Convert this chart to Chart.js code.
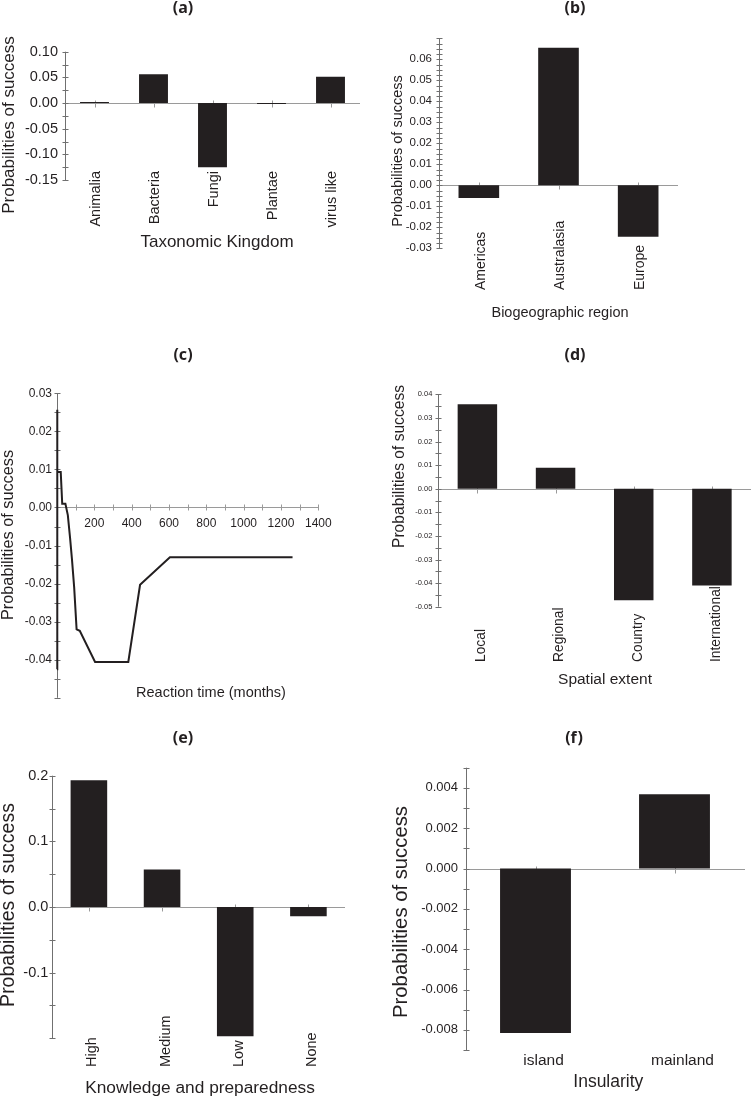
<!DOCTYPE html>
<html>
<head>
<meta charset="utf-8">
<script src="https://cdn.jsdelivr.net/npm/chart.js@4/dist/chart.umd.min.js"></script>
<style>
    body { margin: 0; background: #fff; }
    #page { position: relative; width: 751px; height: 1099px; overflow: hidden; }
    #page canvas { position: absolute; }
</style>
</head>
<body>
<div id="page"></div>
<script>
// ---- values ----
// (a) taxonomic kingdom
var kingdoms = ['Animalia', 'Bacteria', 'Fungi', 'Plantae', 'virus like'];
var kingdomProb = [0.002, 0.056, -0.125, -0.002, 0.051];
var kingdomTicks = [0.10, 0.05, 0.00, -0.05, -0.10, -0.15];

// (b) biogeographic region
var regions = ['Americas', 'Australasia', 'Europe'];
var regionProb = [-0.006, 0.0655, -0.0245];
var regionTicks = [0.06, 0.05, 0.04, 0.03, 0.02, 0.01, 0.00, -0.01, -0.02, -0.03];

// (c) reaction time in months
var reactionMonths = [0, 1, 2, 20, 28, 45, 58, 70, 80, 92, 105, 122, 204, 382, 445, 605, 1262];
var reactionProb = [-0.0425, 0.0257, 0.0093, 0.0093, 0.001, 0.001, -0.002, -0.008, -0.0135, -0.021, -0.032, -0.0324, -0.0406, -0.0406, -0.0203, -0.0131, -0.0131];
var reactionYTicks = [0.03, 0.02, 0.01, 0.00, -0.01, -0.02, -0.03, -0.04];
var reactionXTicks = [200, 400, 600, 800, 1000, 1200, 1400];

// (d) spatial extent
var extents = ['Local', 'Regional', 'Country', 'International'];
var extentProb = [0.0358, 0.0089, -0.0473, -0.041];
var extentTicks = [0.04, 0.03, 0.02, 0.01, 0.00, -0.01, -0.02, -0.03, -0.04, -0.05];

// (e) knowledge and preparedness
var knowledge = ['High', 'Medium', 'Low', 'None'];
var knowledgeProb = [0.193, 0.057, -0.197, -0.0142];
var knowledgeTicks = [0.2, 0.1, 0.0, -0.1];

// (f) insularity
var insularity = ['island', 'mainland'];
var insularityProb = [-0.00816, 0.00368];
var insularityTicks = [0.004, 0.002, 0.000, -0.002, -0.004, -0.006, -0.008];

var INK = '#231f20';
var SANS = '"Liberation Sans", Arial, sans-serif';

function px(v) { return Math.round(v) + 0.5; }

function strokeLine(ctx, x1, y1, x2, y2) {
    ctx.beginPath();
    ctx.moveTo(x1, y1);
    ctx.lineTo(x2, y2);
    ctx.stroke();
}

function putText(ctx, text, x, y, size, align, rotate, font) {
    ctx.save();
    ctx.font = font || (size + 'px ' + SANS);
    ctx.fillStyle = INK;
    ctx.textAlign = align || 'center';
    ctx.textBaseline = 'middle';
    ctx.translate(x, y);
    if (rotate) ctx.rotate(-Math.PI / 2);
    ctx.fillText(text, 0, 0);
    ctx.restore();
}

// axes, ticks, titles and category labels drawn around each panel
var panelDecor = {
    id: 'panelDecor',
    beforeDatasetsDraw: function (chart, args, o) {
        var ctx = chart.ctx, area = chart.chartArea;
        var ys = chart.scales.y, xs = chart.scales.x;
        var y0 = px(ys.getPixelForValue(0));
        var xl = px(area.left);
        var i;
        ctx.save();
        ctx.lineWidth = 1;

        // horizontal axis through zero
        ctx.strokeStyle = '#9a9a9a';
        strokeLine(ctx, xl, y0, area.right + (o.zeroExtend || 0), y0);
        if (o.xMinor) {
            for (var v = o.xMinor; v <= xs.max + 1e-9; v += o.xMinor) {
                var p = px(xs.getPixelForValue(v));
                strokeLine(ctx, p, y0 - 3, p, y0 + 3);
            }
        } else {
            chart.data.labels.forEach(function (l, k) {
                var p = px(xs.getPixelForValue(k));
                strokeLine(ctx, p, y0 - 3, p, y0 + 4);
            });
        }

        // vertical axis with major and minor ticks
        ctx.strokeStyle = '#707070';
        strokeLine(ctx, xl, area.top, xl, area.bottom);
        var n = Math.round((ys.max - ys.min) / o.yMinor);
        for (i = 0; i <= n; i++) {
            var py = px(ys.getPixelForValue(ys.min + i * o.yMinor));
            strokeLine(ctx, xl - 3, py, xl + 3, py);
        }
        ctx.restore();
    },
    afterDraw: function (chart, args, o) {
        var ctx = chart.ctx, bx = o.box.x, by = o.box.y;
        var xs = chart.scales.x;

        putText(ctx, o.letter, o.letterAt[0] - bx, o.letterAt[1] - by, 16, 'center', false,
            'bold 16px "Noto Sans", sans-serif');
        putText(ctx, o.yTitle.text, o.yTitle.x - bx, o.yTitle.y - by, o.yTitle.size, 'center', true);
        putText(ctx, o.xTitle.text, o.xTitle.x - bx, o.xTitle.y - by, o.xTitle.size, 'center', false);

        if (o.cats) {
            var c = o.cats;
            chart.data.labels.forEach(function (label, k) {
                var x = xs.getPixelForValue(k) + c.dx;
                if (c.align === 'flat') {
                    putText(ctx, label, x, c.y - by, c.size, 'center', false);
                } else {
                    putText(ctx, label, x, c.y - by, c.size, c.align === 'top' ? 'right' : 'left', true);
                }
            });
        }
        if (o.xLabels) {
            o.xLabels.values.forEach(function (v) {
                putText(ctx, String(v), xs.getPixelForValue(v), o.xLabels.y - by, o.xLabels.size, 'center', false);
            });
        }
    }
};

// y scale whose box fills the whole strip left of the plot, so tick labels are not clipped
function yScale(min, max, tickValues, decimals, size, gap) {
    return {
        min: min,
        max: max,
        afterBuildTicks: function (s) {
            s.ticks = tickValues.map(function (v) { return { value: v }; });
        },
        afterFit: function (s) { s.width = s.options.stripWidth; },
        grid: { display: false, drawTicks: false },
        border: { display: false },
        ticks: {
            autoSkip: false,
            color: INK,
            padding: gap,
            font: { family: SANS, size: size },
            callback: function (v) { return Number(v).toFixed(decimals); }
        }
    };
}

function makeCanvas(box) {
    var canvas = document.createElement('canvas');
    canvas.width = box.w;
    canvas.height = box.h;
    canvas.style.left = box.x + 'px';
    canvas.style.top = box.y + 'px';
    document.getElementById('page').appendChild(canvas);
    return canvas;
}

function baseOptions(box, area, scales, decor) {
    decor.box = box;
    scales.y.stripWidth = area[0] - box.x;
    return {
        responsive: false,
        animation: false,
        layout: {
            padding: {
                left: 0,
                top: area[1] - box.y,
                right: box.x + box.w - area[2],
                bottom: box.y + box.h - area[3]
            }
        },
        scales: scales,
        plugins: {
            legend: { display: false },
            tooltip: { enabled: false },
            panelDecor: decor
        }
    };
}

function barPanel(box, area, labels, values, barPct, y, decor) {
    new Chart(makeCanvas(box), {
        type: 'bar',
        data: {
            labels: labels,
            datasets: [{
                data: values,
                backgroundColor: INK,
                borderWidth: 0,
                barPercentage: barPct,
                categoryPercentage: 1
            }]
        },
        options: baseOptions(box, area, {
            x: { type: 'category', display: false, offset: true },
            y: y
        }, decor),
        plugins: [panelDecor]
    });
}

// (a)
barPanel({ x: 0, y: 0, w: 375, h: 340 }, [65, 51.7, 360, 180],
    kingdoms, kingdomProb, 0.49,
    yScale(-0.15, 0.10, kingdomTicks, 2, 14.5, 7),
    {
        letter: '(a)', letterAt: [183, 8], yMinor: 0.025,
        yTitle: { text: 'Probabilities of success', x: 9, y: 125, size: 17 },
        xTitle: { text: 'Taxonomic Kingdom', x: 217, y: 242, size: 17 },
        cats: { size: 14.5, y: 171, align: 'top', dx: 1.5 }
    });

// (b)
barPanel({ x: 375, y: 0, w: 376, h: 340 }, [439, 38.3, 678, 248.3],
    regions, regionProb, 0.51,
    yScale(-0.03, 0.07, regionTicks, 2, 11.5, 7),
    {
        letter: '(b)', letterAt: [575, 8], yMinor: 0.0025,
        yTitle: { text: 'Probabilities of success', x: 398, y: 151, size: 14.5 },
        xTitle: { text: 'Biogeographic region', x: 560, y: 313, size: 14.5 },
        cats: { size: 14, y: 290, align: 'bottom', dx: 2 }
    });

// (c) line chart over reaction time
(function () {
    var box = { x: 0, y: 340, w: 375, h: 370 };
    var points = reactionMonths.map(function (m, i) { return { x: m, y: reactionProb[i] }; });
    new Chart(makeCanvas(box), {
        type: 'line',
        data: {
            datasets: [{
                data: points,
                borderColor: INK,
                borderWidth: 2,
                pointRadius: 0,
                tension: 0,
                fill: false,
                clip: false
            }]
        },
        options: baseOptions(box, [57, 393.3, 318.3, 701.2], {
            x: { type: 'linear', display: false, min: 0, max: 1400 },
            y: yScale(-0.05, 0.03, reactionYTicks, 2, 12, 5)
        }, {
            letter: '(c)', letterAt: [183, 355], yMinor: 0.005, xMinor: 100,
            xLabels: { values: reactionXTicks, y: 524, size: 12 },
            yTitle: { text: 'Probabilities of success', x: 8.5, y: 535, size: 16.3 },
            xTitle: { text: 'Reaction time (months)', x: 211, y: 692.7, size: 14.5 }
        }),
        plugins: [panelDecor]
    });
})();

// (d)
barPanel({ x: 375, y: 340, w: 376, h: 370 }, [438.3, 394.3, 751, 606.7],
    extents, extentProb, 0.505,
    yScale(-0.05, 0.04, extentTicks, 2, 7.5, 6),
    {
        letter: '(d)', letterAt: [575, 355], yMinor: 0.005,
        yTitle: { text: 'Probabilities of success', x: 400, y: 466.5, size: 15.6 },
        xTitle: { text: 'Spatial extent', x: 605, y: 680, size: 15.5 },
        cats: { size: 13.8, y: 662, align: 'bottom', dx: 4 }
    });

// (e)
barPanel({ x: 0, y: 710, w: 375, h: 389 }, [52.3, 775.7, 345, 1038.3],
    knowledge, knowledgeProb, 0.5,
    yScale(-0.2, 0.2, knowledgeTicks, 1, 14.5, 4),
    {
        letter: '(e)', letterAt: [183, 738], yMinor: 0.05,
        yTitle: { text: 'Probabilities of success', x: 8.3, y: 905, size: 19.5 },
        xTitle: { text: 'Knowledge and preparedness', x: 200, y: 1088, size: 17.3 },
        cats: { size: 14.5, y: 1067, align: 'bottom', dx: 3.5 }
    });

// (f)
barPanel({ x: 375, y: 710, w: 376, h: 389 }, [466, 767.7, 744, 1050],
    insularity, insularityProb, 0.51,
    yScale(-0.009, 0.005, insularityTicks, 3, 13, 8),
    {
        letter: '(f)', letterAt: [574, 738], yMinor: 0.001, zeroExtend: 1,
        yTitle: { text: 'Probabilities of success', x: 401.7, y: 912, size: 20.3 },
        xTitle: { text: 'Insularity', x: 608.3, y: 1081.7, size: 17.5 },
        cats: { size: 15.5, y: 1060.5, align: 'flat', dx: 8 }
    });
</script>
</body>
</html>
